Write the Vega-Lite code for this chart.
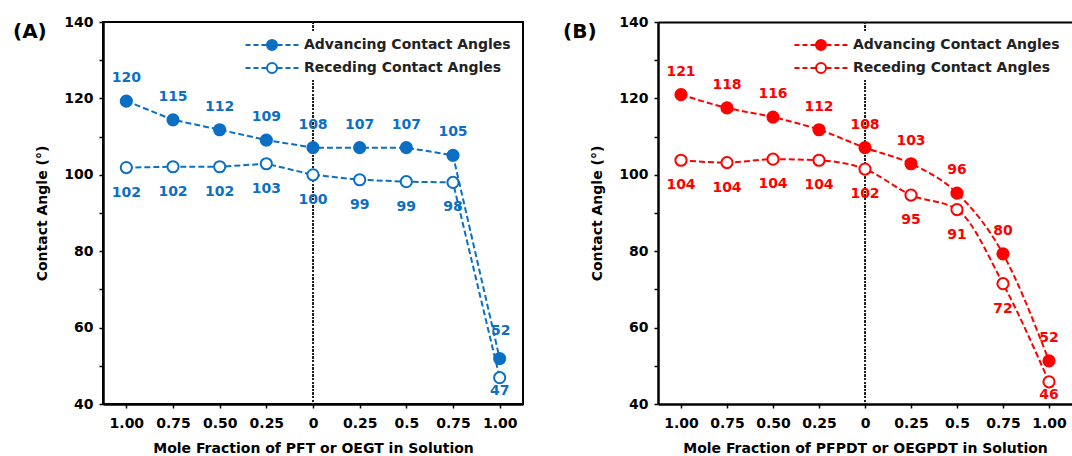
{
  "$schema": "https://vega.github.io/schema/vega-lite/v6.json",
  "padding": {"left": 12, "top": 14, "right": 0, "bottom": 0},
  "background": "white",
  "spacing": 39,
  "resolve": {"scale": {"fill": "independent", "x": "independent", "y": "independent"}, "legend": {"fill": "independent"}},
  "datasets": {
    "panelA": [
      {"fraction": -1, "series": "Advancing Contact Angles", "angle": 119.3, "label": "120"},
      {"fraction": -0.75, "series": "Advancing Contact Angles", "angle": 114.4, "label": "115"},
      {"fraction": -0.5, "series": "Advancing Contact Angles", "angle": 111.8, "label": "112"},
      {"fraction": -0.25, "series": "Advancing Contact Angles", "angle": 109.1, "label": "109"},
      {"fraction": 0, "series": "Advancing Contact Angles", "angle": 107.1, "label": "108"},
      {"fraction": 0.25, "series": "Advancing Contact Angles", "angle": 107.1, "label": "107"},
      {"fraction": 0.5, "series": "Advancing Contact Angles", "angle": 107.1, "label": "107"},
      {"fraction": 0.75, "series": "Advancing Contact Angles", "angle": 105.1, "label": "105"},
      {"fraction": 1, "series": "Advancing Contact Angles", "angle": 51.9, "label": "52"},
      {"fraction": -1, "series": "Receding Contact Angles", "angle": 101.9, "label": "102"},
      {"fraction": -0.75, "series": "Receding Contact Angles", "angle": 102.1, "label": "102"},
      {"fraction": -0.5, "series": "Receding Contact Angles", "angle": 102.1, "label": "102"},
      {"fraction": -0.25, "series": "Receding Contact Angles", "angle": 102.9, "label": "103"},
      {"fraction": 0, "series": "Receding Contact Angles", "angle": 100.0, "label": "100"},
      {"fraction": 0.25, "series": "Receding Contact Angles", "angle": 98.7, "label": "99"},
      {"fraction": 0.5, "series": "Receding Contact Angles", "angle": 98.2, "label": "99"},
      {"fraction": 0.75, "series": "Receding Contact Angles", "angle": 98.0, "label": "98"},
      {"fraction": 1, "series": "Receding Contact Angles", "angle": 46.9, "label": "47"}
    ],
    "panelB": [
      {"fraction": -1, "series": "Advancing Contact Angles", "angle": 121.0, "label": "121"},
      {"fraction": -0.75, "series": "Advancing Contact Angles", "angle": 117.5, "label": "118"},
      {"fraction": -0.5, "series": "Advancing Contact Angles", "angle": 115.1, "label": "116"},
      {"fraction": -0.25, "series": "Advancing Contact Angles", "angle": 111.8, "label": "112"},
      {"fraction": 0, "series": "Advancing Contact Angles", "angle": 107.1, "label": "108"},
      {"fraction": 0.25, "series": "Advancing Contact Angles", "angle": 102.9, "label": "103"},
      {"fraction": 0.5, "series": "Advancing Contact Angles", "angle": 95.2, "label": "96"},
      {"fraction": 0.75, "series": "Advancing Contact Angles", "angle": 79.3, "label": "80"},
      {"fraction": 1, "series": "Advancing Contact Angles", "angle": 51.3, "label": "52"},
      {"fraction": -1, "series": "Receding Contact Angles", "angle": 103.8, "label": "104"},
      {"fraction": -0.75, "series": "Receding Contact Angles", "angle": 103.2, "label": "104"},
      {"fraction": -0.5, "series": "Receding Contact Angles", "angle": 104.1, "label": "104"},
      {"fraction": -0.25, "series": "Receding Contact Angles", "angle": 103.8, "label": "104"},
      {"fraction": 0, "series": "Receding Contact Angles", "angle": 101.5, "label": "102"},
      {"fraction": 0.25, "series": "Receding Contact Angles", "angle": 94.7, "label": "95"},
      {"fraction": 0.5, "series": "Receding Contact Angles", "angle": 90.9, "label": "91"},
      {"fraction": 0.75, "series": "Receding Contact Angles", "angle": 71.5, "label": "72"},
      {"fraction": 1, "series": "Receding Contact Angles", "angle": 45.8, "label": "46"}
    ]
  },
  "hconcat": [
    {
      "width": 420,
      "height": 382,
      "data": {"name": "panelA"},
      "title": {"text": "(A)", "anchor": "start", "frame": "group", "orient": "top", "offset": 0, "dx": -90, "dy": 43, "baseline": "alphabetic", "font": "DejaVu Sans", "fontSize": 20, "fontWeight": "bold", "color": "#000"},
      "encoding": {
        "x": {"field": "fraction", "type": "quantitative", "scale": {"domain": [-1.125, 1.125], "nice": false, "zero": false},
          "axis": {"title": "Mole Fraction of PFT or OEGT in Solution", "values": [-1, -0.75, -0.5, -0.25, 0, 0.25, 0.5, 0.75, 1], "labelExpr": "datum.value == 0 ? '0' : datum.value == 0.5 ? '0.5' : format(abs(datum.value), '.2f')", "labelPadding": 8, "titlePadding": 11, "labelFlush": false}},
        "y": {"field": "angle", "type": "quantitative", "scale": {"domain": [40, 140], "nice": false, "zero": false},
          "axis": {"title": "Contact Angle (°)", "values": [40, 50, 60, 70, 80, 90, 100, 110, 120, 130, 140], "labelExpr": "datum.value % 20 == 0 ? datum.label : ''", "labelPadding": 6, "titlePadding": 14}}
      },
      "layer": [
        {"mark": {"type": "rule", "color": "#222", "strokeDash": [1.6, 2], "strokeWidth": 1.6}, "encoding": {"x": {"datum": 0, "type": "quantitative"}, "y": null}},
        {"mark": {"type": "line", "color": "#0B6FC4", "strokeWidth": 2, "strokeDash": [6, 3]}, "encoding": {"detail": {"field": "series"}}},
        {"mark": {"type": "point", "shape": "circle", "stroke": "#0B6FC4", "strokeWidth": 2, "size": 125, "opacity": 1},
          "encoding": {"fill": {"field": "series", "type": "nominal", "scale": {"domain": ["Advancing Contact Angles", "Receding Contact Angles"], "range": ["#0B6FC4", "#ffffff"]},
            "legend": {"title": null, "orient": "top-right", "offset": 9, "padding": 3, "fillColor": "white", "symbolType": "M-2.65,0H-2.15M-1.85,0H-1.35M-1.05,0H-0.55M0.55,0H1.05M1.35,0H1.85M2.15,0H2.65M-0.5,0A0.5,0.5,0,1,1,0.5,0A0.5,0.5,0,1,1,-0.5,0Z", "symbolSize": 400, "symbolStrokeColor": "#0B6FC4", "symbolStrokeWidth": 2, "labelOffset": 21, "rowPadding": 3, "labelFont": "DejaVu Sans", "labelFontWeight": "bold", "labelFontSize": 14, "labelColor": "#222", "labelLimit": 400}}}},
        {"transform": [{"filter": "datum.series == 'Advancing Contact Angles' && datum.fraction < 1"}], "mark": {"type": "text", "color": "#0B6FC4", "dy": -23, "font": "DejaVu Sans", "fontWeight": "bold", "fontSize": 14}, "encoding": {"text": {"field": "label"}}},
        {"transform": [{"filter": "datum.series == 'Advancing Contact Angles' && datum.fraction == 1"}], "mark": {"type": "text", "color": "#0B6FC4", "dy": -28, "dx": 1, "font": "DejaVu Sans", "fontWeight": "bold", "fontSize": 14}, "encoding": {"text": {"field": "label"}}},
        {"transform": [{"filter": "datum.series == 'Receding Contact Angles' && datum.fraction < 1"}], "mark": {"type": "text", "color": "#0B6FC4", "dy": 25, "font": "DejaVu Sans", "fontWeight": "bold", "fontSize": 14}, "encoding": {"text": {"field": "label"}}},
        {"transform": [{"filter": "datum.series == 'Receding Contact Angles' && datum.fraction == 1"}], "mark": {"type": "text", "color": "#0B6FC4", "dy": 13, "font": "DejaVu Sans", "fontWeight": "bold", "fontSize": 14}, "encoding": {"text": {"field": "label"}}}
      ]
    },
    {
      "width": 414,
      "height": 382,
      "data": {"name": "panelB"},
      "view": {"stroke": null},
      "title": {"text": "(B)", "anchor": "start", "frame": "group", "orient": "top", "offset": 0, "dx": -95, "dy": 43, "baseline": "alphabetic", "font": "DejaVu Sans", "fontSize": 20, "fontWeight": "bold", "color": "#000"},
      "resolve": {"axis": {"x": "independent"}},
      "layer": [
        {
          "encoding": {
            "x": {"field": "fraction", "type": "quantitative", "scale": {"domain": [-1.125, 1.125], "nice": false, "zero": false},
              "axis": {"title": "Mole Fraction of PFPDT or OEGPDT in Solution", "values": [-1, -0.75, -0.5, -0.25, 0, 0.25, 0.5, 0.75, 1], "labelExpr": "datum.value == 0 ? '0' : datum.value == 0.5 ? '0.5' : format(abs(datum.value), '.2f')", "labelPadding": 8, "titlePadding": 11, "labelFlush": false}},
            "y": {"field": "angle", "type": "quantitative", "scale": {"domain": [40, 140], "nice": false, "zero": false},
              "axis": {"title": "Contact Angle (°)", "values": [40, 50, 60, 70, 80, 90, 100, 110, 120, 130, 140], "labelExpr": "datum.value % 20 == 0 ? datum.label : ''", "labelPadding": 6, "titlePadding": 14}}
          },
          "layer": [
            {"mark": {"type": "rule", "color": "#222", "strokeDash": [1.6, 2], "strokeWidth": 1.6}, "encoding": {"x": {"datum": 0, "type": "quantitative"}, "y": null}},
            {"mark": {"type": "line", "color": "#FF0000", "strokeWidth": 2, "strokeDash": [6, 3], "interpolate": "monotone"}, "encoding": {"detail": {"field": "series"}}},
            {"mark": {"type": "point", "shape": "circle", "stroke": "#FF0000", "strokeWidth": 2, "size": 125, "opacity": 1},
              "encoding": {"fill": {"field": "series", "type": "nominal", "scale": {"domain": ["Advancing Contact Angles", "Receding Contact Angles"], "range": ["#FF0000", "#ffffff"]},
                "legend": {"title": null, "orient": "top-right", "offset": 9, "padding": 3, "fillColor": "white", "symbolType": "M-2.65,0H-2.15M-1.85,0H-1.35M-1.05,0H-0.55M0.55,0H1.05M1.35,0H1.85M2.15,0H2.65M-0.5,0A0.5,0.5,0,1,1,0.5,0A0.5,0.5,0,1,1,-0.5,0Z", "symbolSize": 400, "symbolStrokeColor": "#FF0000", "symbolStrokeWidth": 2, "labelOffset": 21, "rowPadding": 3, "labelFont": "DejaVu Sans", "labelFontWeight": "bold", "labelFontSize": 14, "labelColor": "#222", "labelLimit": 400}}}},
            {"transform": [{"filter": "datum.series == 'Advancing Contact Angles'"}], "mark": {"type": "text", "color": "#FF0000", "dy": -23, "font": "DejaVu Sans", "fontWeight": "bold", "fontSize": 14}, "encoding": {"text": {"field": "label"}}},
            {"transform": [{"filter": "datum.series == 'Receding Contact Angles' && datum.fraction < 1"}], "mark": {"type": "text", "color": "#FF0000", "dy": 25, "font": "DejaVu Sans", "fontWeight": "bold", "fontSize": 14}, "encoding": {"text": {"field": "label"}}},
            {"transform": [{"filter": "datum.series == 'Receding Contact Angles' && datum.fraction == 1"}], "mark": {"type": "text", "color": "#FF0000", "dy": 13, "font": "DejaVu Sans", "fontWeight": "bold", "fontSize": 14}, "encoding": {"text": {"field": "label"}}}
          ]
        },
        {
          "mark": {"type": "rule", "opacity": 0},
          "encoding": {"x": {"datum": 0, "type": "quantitative", "axis": {"orient": "top", "labels": false, "ticks": false, "title": null, "domainWidth": 2}}}
        }
      ]
    }
  ],
  "config": {
    "font": "DejaVu Sans",
    "view": {"stroke": "#000", "strokeWidth": 2},
    "axis": {"labelFont": "DejaVu Sans", "labelFontWeight": "bold", "labelFontSize": 14, "labelColor": "#000", "titleFont": "DejaVu Sans", "titleFontWeight": "bold", "titleFontSize": 14, "titleColor": "#000", "domainColor": "#000", "domainWidth": 2.5, "tickColor": "#000", "tickWidth": 1.5, "tickSize": 4, "grid": false}
  }
}
